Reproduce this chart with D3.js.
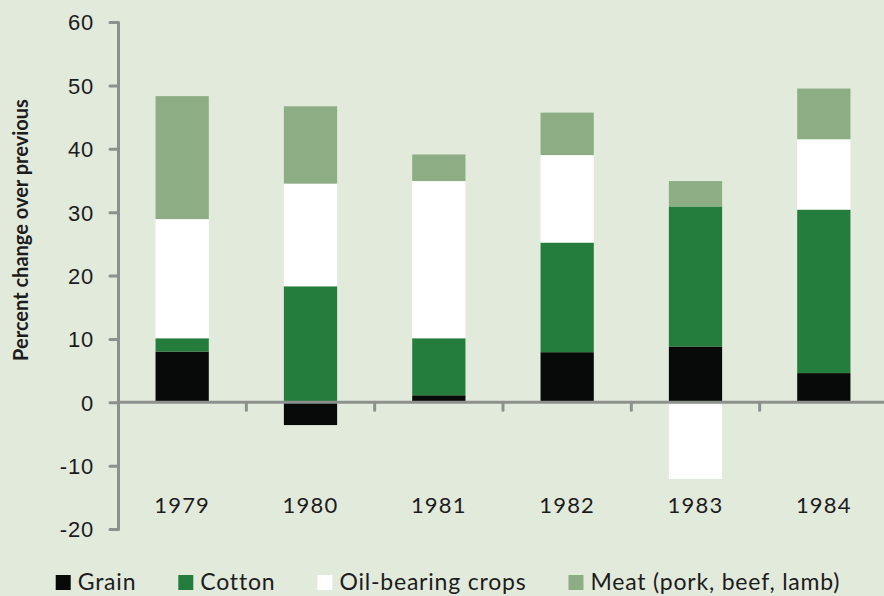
<!DOCTYPE html>
<meta charset="utf-8">
<html>
<head>
<style>
  body { margin: 0; background: #e2eadc; }
  svg { display: block; font-family: Lato, 'Open Sans', sans-serif; }
  .axis path, .axis line { stroke: #8d918d; stroke-width: 3; stroke-linecap: round; }
  .tick text { fill: #1c1c1c; font-size: 22px; letter-spacing: 0.8px; }
</style>
</head>
<body>
<svg id="chart" width="884" height="596"></svg>
<script src="https://d3js.org/d3.v7.min.js"></script>
<script>

// data
var years  = ["1979", "1980", "1981", "1982", "1983", "1984"];
var grain  = [8.0, -3.6, 1.1, 7.9, 8.8, 4.6];
var cotton = [2.1, 18.3, 9.0, 17.3, 22.1, 25.8];
var oil    = [18.8, 16.2, 24.8, 13.8, -12.1, 11.1];
var meat   = [19.4, 12.2, 4.2, 6.7, 4.0, 8.0];
var seriesNames = ["Grain", "Cotton", "Oil-bearing crops", "Meat (pork, beef, lamb)"];
var yTicks = [-20, -10, 0, 10, 20, 30, 40, 50, 60];

var colors = ["#080a09", "#257d3d", "#ffffff", "#8dad84"];

var W = 884, H = 596;
var plot = { left: 118, right: 888, top: 22, bottom: 529 };

var svg = d3.select("#chart");
svg.append("rect").attr("width", W).attr("height", H).attr("fill", "#e2eadc");

var rows = years.map(function(yr, i) {
  var r = { year: yr };
  r[seriesNames[0]] = grain[i];
  r[seriesNames[1]] = cotton[i];
  r[seriesNames[2]] = oil[i];
  r[seriesNames[3]] = meat[i];
  return r;
});

var stacked = d3.stack()
    .keys(seriesNames)
    .offset(d3.stackOffsetDiverging)(rows);

var xCat = d3.scaleBand().domain(years).range([plot.left, plot.right]);
var x = d3.scaleBand().domain(years).range([plot.left, plot.right])
    .paddingInner(0.585).paddingOuter(0.2925);
var y = d3.scaleLinear().domain([-20, 60]).range([plot.bottom, plot.top]);

// bars
svg.append("g").selectAll("g")
    .data(stacked)
  .enter().append("g")
    .attr("fill", function(d, i) { return colors[i]; })
  .selectAll("rect")
    .data(function(d) { return d; })
  .enter().append("rect")
    .attr("x", function(d) { return x(d.data.year); })
    .attr("width", x.bandwidth())
    .attr("y", function(d) { return y(Math.max(d[0], d[1])); })
    .attr("height", function(d) { return Math.abs(y(d[0]) - y(d[1])); });

// y axis (plain hyphen for negatives, like the original)
var yAxis = d3.axisLeft(y).tickValues(yTicks).tickSize(8).tickSizeOuter(0).tickPadding(16)
    .tickFormat(function(d) { return String(d); });
var gy = svg.append("g").attr("class", "axis")
    .attr("transform", "translate(" + plot.left + ",0)")
    .call(yAxis);
gy.selectAll(".tick text").attr("dy", "0.36em");

// x axis along zero, ticks between categories
var gx = svg.append("g").attr("class", "axis");
gx.append("line")
    .attr("x1", plot.left).attr("x2", W + 4)
    .attr("y1", y(0)).attr("y2", y(0));
gx.selectAll(".sep")
    .data(years.slice(1))
  .enter().append("line")
    .attr("x1", function(d) { return xCat(d); })
    .attr("x2", function(d) { return xCat(d); })
    .attr("y1", y(0)).attr("y2", y(0) + 8);

svg.append("g").selectAll("text")
    .data(years)
  .enter().append("text")
    .attr("x", function(d) { return xCat(d) + xCat.bandwidth() / 2; })
    .attr("y", 513)
    .attr("text-anchor", "middle")
    .attr("fill", "#1c1c1c")
    .style("font-size", "22px")
    .style("letter-spacing", "1.2px")
    .text(function(d) { return d; });

// y title
svg.append("text")
    .attr("transform", "translate(28,230) rotate(-90)")
    .attr("text-anchor", "middle")
    .attr("fill", "#1c1c1c")
    .style("font-size", "20px")
    .style("font-weight", "bold")
    .text("Percent change over previous");

// legend
var legend = svg.append("g");
var items = legend.selectAll("g")
    .data(seriesNames)
  .enter().append("g");
items.append("rect")
    .attr("width", 15).attr("height", 15)
    .attr("y", -15)
    .attr("fill", function(d, i) { return colors[i]; });
items.append("text")
    .attr("x", 22)
    .attr("y", 0)
    .attr("fill", "#1c1c1c")
    .style("font-size", "23px")
    .style("letter-spacing", "0.8px")
    .text(function(d) { return d; });

var pos = 0, gap = 42;
items.each(function() {
  var g = d3.select(this);
  g.attr("transform", "translate(" + pos + ",590)");
  pos += 22 + g.select("text").node().getComputedTextLength() + gap;
});
var totalW = pos - gap;
legend.attr("transform", "translate(" + (448 - totalW / 2) + ",0)");

</script>
</body>
</html>
